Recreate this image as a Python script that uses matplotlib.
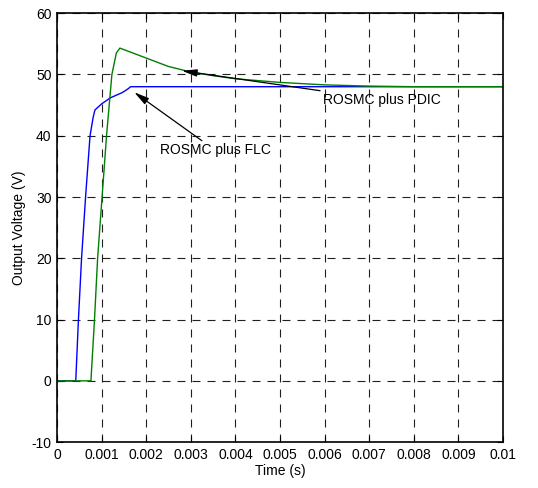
import matplotlib
matplotlib.use('Agg')
import matplotlib.pyplot as plt

plt.rcParams['font.family'] = ['Liberation Sans', 'DejaVu Sans']
plt.rcParams['axes.unicode_minus'] = False

# ROSMC plus FLC (blue)
t_flc = [0, 0.00042, 0.00048, 0.00055, 0.00064, 0.00074, 0.00081, 0.00085,
         0.0010, 0.0012, 0.00145, 0.00152, 0.00160, 0.00165, 0.0030, 0.0060, 0.01]
v_flc = [0, 0, 10, 20, 30, 40, 43, 44.2,
         45.2, 46.2, 47.0, 47.3, 47.7, 48.0, 48.0, 48.0, 48.0]

# ROSMC plus PDIC (green)
t_pdic = [0, 0.00076, 0.00084, 0.00091, 0.00101, 0.00111, 0.00123, 0.00133,
          0.00141, 0.0017, 0.0021, 0.0025, 0.0030, 0.0035, 0.0040, 0.0045,
          0.0050, 0.0055, 0.0060, 0.0070, 0.0080, 0.01]
v_pdic = [0, 0, 10, 20, 30, 40, 50, 53.5,
          54.3, 53.5, 52.4, 51.3, 50.4, 49.8, 49.3, 49.0,
          48.7, 48.5, 48.3, 48.1, 48.0, 48.0]

xticks = [0, 0.001, 0.002, 0.003, 0.004, 0.005, 0.006, 0.007, 0.008, 0.009, 0.01]
xticklabels = ['0', '0.001', '0.002', '0.003', '0.004', '0.005', '0.006',
               '0.007', '0.008', '0.009', '0.01']
yticks = [-10, 0, 10, 20, 30, 40, 50, 60]

fig = plt.figure(figsize=(5.38, 4.88), dpi=100)
ax = fig.add_axes([0.106, 0.094, 0.829, 0.879])

ax.plot(t_flc, v_flc, color='#0000ff', lw=1.0)
ax.plot(t_pdic, v_pdic, color='#008000', lw=1.0)

ax.set_xlim(0, 0.01)
ax.set_ylim(-10, 60)
ax.set_xticks(xticks)
ax.set_xticklabels(xticklabels)
ax.set_yticks(yticks)
ax.tick_params(direction='in', top=True, right=True, labelsize=10, length=4, pad=4)
ax.grid(True, color='#202020', linestyle=(0, (7.2, 6.3)), linewidth=0.8)
for s in ax.spines.values():
    s.set_linewidth(1.2)

ax.set_xlabel('Time (s)', fontsize=10, labelpad=2)
ax.set_ylabel('Output Voltage (V)', fontsize=10, labelpad=4)

arrow = dict(arrowstyle='-|>,head_width=0.22,head_length=0.9', color='black',
             lw=0.9, shrinkA=0, shrinkB=0)
ax.annotate('ROSMC plus PDIC', xy=(0.0028, 50.6), xytext=(0.00596, 45.9),
            fontsize=10, va='center', ha='left', arrowprops=arrow)
ax.annotate('ROSMC plus FLC', xy=(0.00173, 47.1), xytext=(0.00231, 37.6),
            fontsize=10, va='center', ha='left', arrowprops=arrow)

fig.savefig('out.png', dpi=100)
